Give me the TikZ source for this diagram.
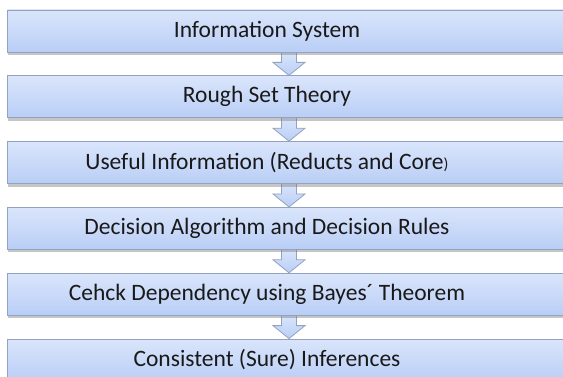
\documentclass[tikz,border=0pt]{standalone}
\usepackage{fontspec}
\setmainfont{Carlito}
\usetikzlibrary{positioning,calc,shadows,backgrounds}

\definecolor{boxtop}{HTML}{DAE5FB}
\definecolor{boxbot}{HTML}{B9CEF6}
\definecolor{boxline}{HTML}{93A2BE}

\begin{document}
\begin{tikzpicture}[x=1pt,y=1pt]
    \tikzstyle{every node}=[inner sep=0]
    \tikzstyle{stage}=[rectangle,draw=boxline,line width=0.8,top color=boxtop,bottom color=boxbot,minimum width=563,minimum height=42,node distance=23,drop shadow={shadow xshift=0,shadow yshift=-3,opacity=.45}]
    \tikzstyle{caption}=[font=\fontsize{23.5}{23.5}\selectfont,text=black!90,xshift=-22]
    \tikzstyle{flow}=[draw=boxline,line width=0.8,top color=boxtop,bottom color=boxbot,line join=miter]

    \useasboundingbox (0,0) rectangle (563,-377);
    {
        \node[stage] (is) at (289,-31) {};
        \node[stage,below=of is] (rst) {};
        \node[stage,below=of rst] (useful) {};
        \node[stage,below=of useful] (rules) {};
        \node[stage,below=of rules] (bayes) {};
        \node[stage,below=of bayes] (infer) {};

        \node[caption] (tis) at (is.center) {Information System};
        \node[caption] (trst) at (rst.center) {Rough Set Theory};
        \node[caption] (tuseful) at (useful.center) {Useful Information (Reducts and Core{\fontsize{16}{16}\selectfont)}};
        \node[caption] (trules) at (rules.center) {Decision Algorithm and Decision Rules};
        \node[caption] (tbayes) at (bayes.center) {Cehck Dependency using Bayes´ Theorem};
        \node[caption] (tinfer) at (infer.center) {Consistent (Sure) Inferences};

        \begin{scope}[on background layer]
            \foreach \a/\b in {is/rst,rst/useful,useful/rules,rules/bayes,bayes/infer}
                \path[flow] ($(\a.south)+(-7.5,1)$) -- ($(\a.south)+(-7.5,-10)$) -- ($(\a.south)+(-16,-10)$)
                    -- (\b.north) -- ($(\a.south)+(16,-10)$) -- ($(\a.south)+(7.5,-10)$) -- ($(\a.south)+(7.5,1)$);
        \end{scope}
    }
\end{tikzpicture}
\end{document}
